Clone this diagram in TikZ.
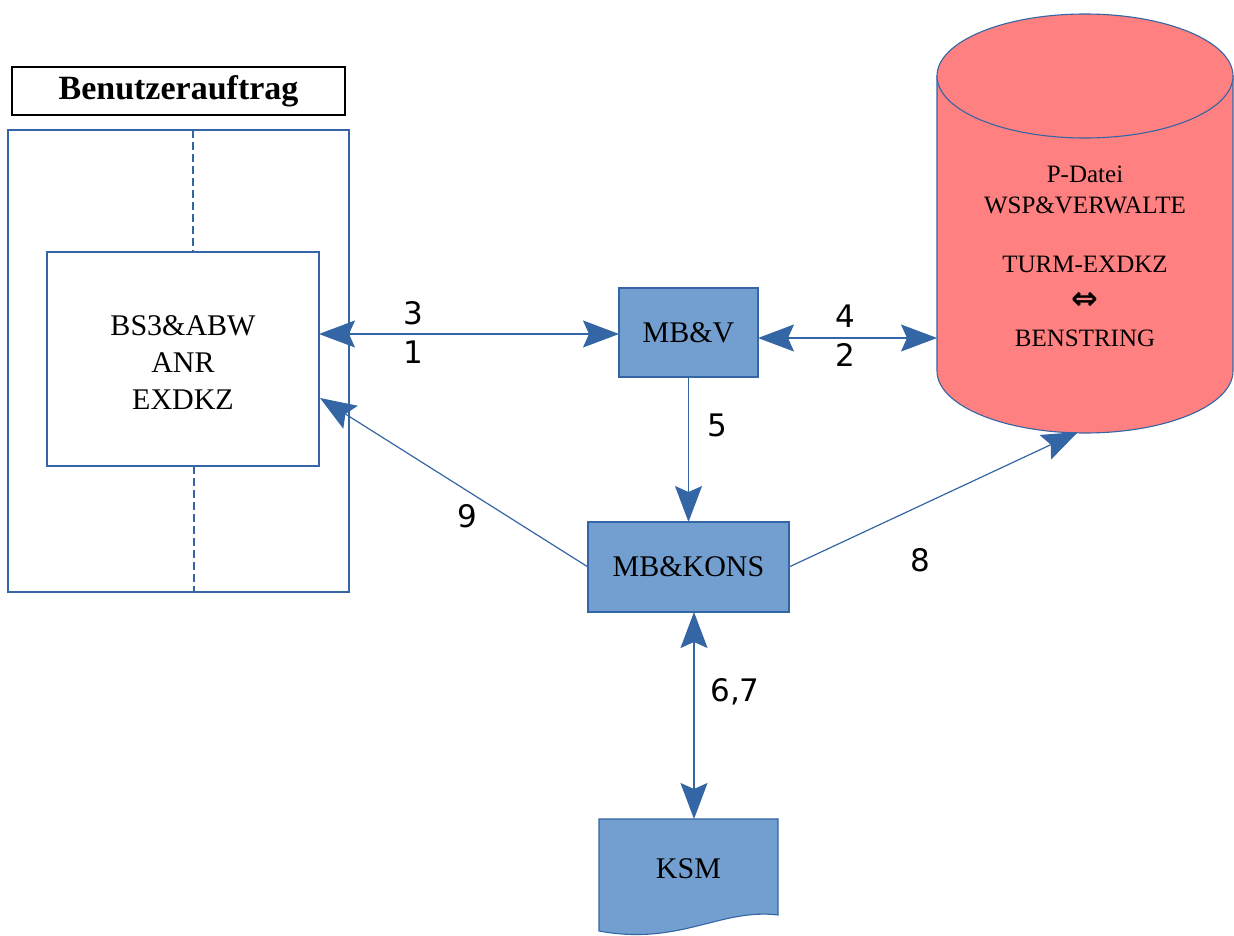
\documentclass[tikz,border=0pt]{standalone}
\usepackage{fontspec}
\setmainfont{Liberation Serif}
\newfontfamily\lblfont{DejaVu Sans}
\newfontfamily\symfont{DejaVu Sans}
\usetikzlibrary{arrows.meta}
\definecolor{lineblue}{HTML}{3465A4}
\definecolor{boxblue}{HTML}{729FCF}
\definecolor{cylred}{HTML}{FF8080}
\begin{document}
\begin{tikzpicture}[x=1pt,y=-1pt,
  conn/.style={draw=lineblue, line width=1.2pt},
  arr/.style={conn, -{Stealth[length=36pt,width=27pt,inset=6pt,fill=lineblue]}},
  darr/.style={conn, {Stealth[length=36pt,width=27pt,inset=6pt,fill=lineblue]}-{Stealth[length=36pt,width=27pt,inset=6pt,fill=lineblue]}},
  procbox/.style={draw=lineblue, fill=boxblue, line width=1.1pt, inner sep=0pt, outer sep=0pt, font=\fontsize{30}{36}\selectfont},
  lbl/.style={font=\lblfont\fontsize{31}{36}\selectfont, inner sep=0pt}]
\useasboundingbox (0,0) rectangle (1234,936);

% title
\node[draw=black, line width=1.2pt, minimum width=333pt, minimum height=48pt, inner sep=0pt, outer sep=0pt,
  font=\bfseries\fontsize{34}{36}\selectfont] (title) at (178.5,91) {Benutzerauftrag};

% frame
\node[draw=lineblue, line width=1.1pt, minimum width=341pt, minimum height=462pt, inner sep=0pt, outer sep=0pt] (frame) at (178.5,361) {};
\node[draw=lineblue, line width=1.1pt, minimum width=272pt, minimum height=214pt, inner sep=0pt, outer sep=0pt] (order) at (183,359) {};
\node[align=center, inner sep=0pt, font=\fontsize{30}{37}\selectfont] (ordertext) at (183,363) {BS3\&ABW\\ANR\\EXDKZ};
\coordinate (dtop) at (193,130);
\coordinate (dbot) at (194,592);
\draw[lineblue, line width=1.1pt, dash pattern=on 8pt off 4pt] (dtop) -- (dtop |- order.north);
\draw[lineblue, line width=1.1pt, dash pattern=on 8pt off 4pt] (dbot |- order.south) -- (dbot);

% process boxes
\node[procbox, minimum width=139pt, minimum height=89pt] (mbv) at (688.5,332.5) {MB\&V};
\node[procbox, minimum width=201pt, minimum height=90pt] (kons) at (688.5,567) {MB\&KONS};

% KSM document
\node[inner sep=0pt, outer sep=0pt, minimum width=179pt, minimum height=100pt] (ksm) at (688.5,869) {};
\fill[boxblue, draw=lineblue, line width=1.1pt] (ksm.north west) -- (ksm.north east) -- (778,915)
  .. controls (720,908) and (680,946) .. (599,931) -- cycle;
\node[font=\fontsize{30}{36}\selectfont, inner sep=0pt] (ksmtext) at (ksm.center) {KSM};

% cylinder
\fill[cylred, draw=lineblue, line width=1.1pt] (1233,76) -- (937,76) -- (937,371)
  arc[start angle=180, end angle=0, x radius=148, y radius=62] -- cycle;
\fill[cylred, draw=lineblue, line width=1.1pt] (1085,76) ellipse [x radius=148, y radius=62];
\node[align=center, inner sep=0pt, font=\fontsize{25}{31}\selectfont] (pfile) at (1085,256)
  {P-Datei\\WSP\&VERWALTE\\[28pt]TURM-EXDKZ\\[6pt]{\symfont\bfseries\fontsize{32}{31}\selectfont ⇔}\\[6pt]BENSTRING};
\coordinate (cylL) at (937,338);
\coordinate (cylB) at (1078,432);
\coordinate (t9) at (320,398);
\coordinate (c67) at (694,0);
\coordinate (c31) at (0,334);

% connectors
\draw[darr] (order.east |- c31) -- (mbv.west |- c31);
\draw[darr] (mbv.east |- cylL) -- (cylL);
\draw[arr] (mbv.south) -- (kons.north);
\draw[arr] (kons.west) -- (t9);
\draw[arr] (kons.east) -- (cylB);
\draw[darr] (kons.south -| c67) -- (ksm.north -| c67);

% labels
\node[lbl] (l3) at (413,313) {3};
\node[lbl] (l1) at (413,352) {1};
\node[lbl] (l4) at (845,316) {4};
\node[lbl] (l2) at (845,355) {2};
\node[lbl] (l5) at (717,425) {5};
\node[lbl] (l9) at (467,516) {9};
\node[lbl] (l8) at (920,560) {8};
\node[lbl] (l67) at (735,692) {6,7};
\end{tikzpicture}
\end{document}
